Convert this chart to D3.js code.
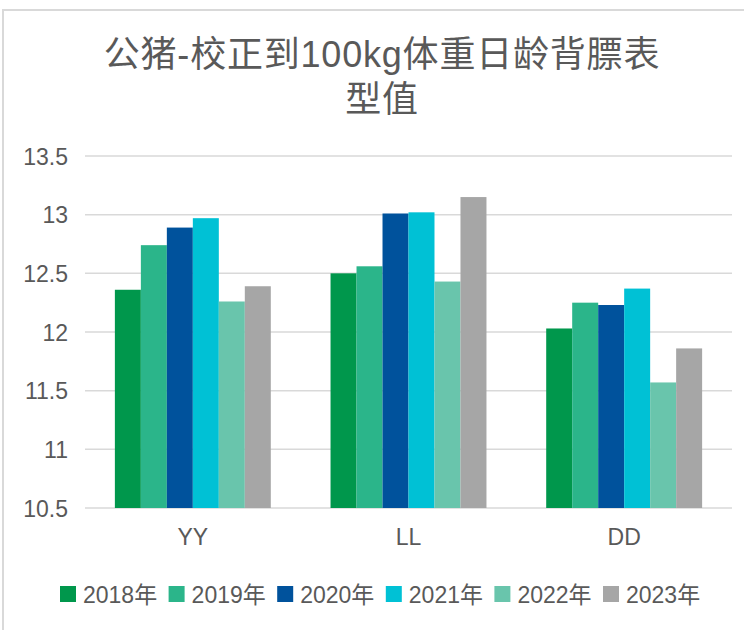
<!DOCTYPE html>
<html>
<head>
<meta charset="utf-8">
<script src="https://cdn.jsdelivr.net/npm/d3@7"></script>
<style>
  html, body { margin: 0; padding: 0; background: #fff; }
  svg { display: block; }
  text { font-family: "Liberation Sans", Arial, "Noto Sans CJK SC", sans-serif; fill: #595959; }
</style>
</head>
<body>
<svg id="chart" width="744" height="630"></svg>
<script>
const titleLines = ["公猪-校正到100kg体重日龄背膘表", "型值"];
const categories = ["YY", "LL", "DD"];
const seriesNames = ["2018年", "2019年", "2020年", "2021年", "2022年", "2023年"];
const seriesColors = ["#00974C", "#2BB58A", "#00529C", "#00C1D5", "#69C5AC", "#A6A6A6"];
const s2018 = [12.36, 12.50, 12.03];
const s2019 = [12.74, 12.56, 12.25];
const s2020 = [12.89, 13.01, 12.23];
const s2021 = [12.97, 13.02, 12.37];
const s2022 = [12.26, 12.43, 11.57];
const s2023 = [12.39, 13.15, 11.86];
const yTicks = [10.5, 11, 11.5, 12, 12.5, 13, 13.5];
const yTickLabels = ["10.5", "11", "11.5", "12", "12.5", "13", "13.5"];

const seriesValues = [s2018, s2019, s2020, s2021, s2022, s2023];

const svg = d3.select("#chart");

// chart area border (partially visible)
svg.append("rect")
  .attr("x", 3).attr("y", 10)
  .attr("width", 760).attr("height", 640)
  .attr("fill", "none")
  .attr("stroke", "#D9D9D9")
  .attr("stroke-width", 2);

// title
svg.append("text")
  .attr("x", 382).attr("text-anchor", "middle")
  .style("font-size", "36px")
  .style("letter-spacing", "0.8px")
  .selectAll("tspan").data(titleLines).join("tspan")
  .attr("x", 382)
  .attr("y", (d, i) => 67 + i * 45)
  .text(d => d);

const plot = { left: 85, right: 732, top: 156, bottom: 508 };

const x0 = d3.scaleBand()
  .domain(categories)
  .range([plot.left, plot.right])
  .paddingInner(0.277)
  .paddingOuter(0.1385);

const x1 = d3.scaleBand()
  .domain(seriesNames)
  .range([0, x0.bandwidth()])
  .padding(0);

const y = d3.scaleLinear()
  .domain([10.5, 13.5])
  .range([plot.bottom, plot.top]);

// gridlines
svg.append("g")
  .selectAll("line").data(yTicks).join("line")
  .attr("x1", plot.left).attr("x2", plot.right)
  .attr("y1", d => y(d)).attr("y2", d => y(d))
  .attr("stroke", "#D9D9D9")
  .attr("stroke-width", 1.5);

// y axis labels
const yAxis = d3.axisLeft(y)
  .tickValues(yTicks)
  .tickFormat((d, i) => yTickLabels[i])
  .tickSize(0)
  .tickPadding(0);
const ya = svg.append("g")
  .attr("transform", `translate(68,0)`)
  .call(yAxis);
ya.select(".domain").remove();
ya.selectAll("text")
  .style("font-size", "23px")
  .style("font-family", "\"Liberation Sans\", Arial, sans-serif")
  .attr("fill", "#595959")
  .attr("dy", "0.35em");

// bars
const groups = svg.append("g")
  .selectAll("g").data(categories).join("g")
  .attr("transform", d => `translate(${x0(d)},0)`);

groups.selectAll("rect")
  .data((c, ci) => seriesNames.map((s, si) => ({ s, si, v: seriesValues[si][ci] })))
  .join("rect")
  .attr("x", d => x1(d.s))
  .attr("width", x1.bandwidth())
  .attr("y", d => y(d.v))
  .attr("height", d => y(10.5) - y(d.v))
  .attr("fill", d => seriesColors[d.si]);

// x axis labels
const xAxis = d3.axisBottom(x0).tickSize(0).tickPadding(0);
const xa = svg.append("g")
  .attr("transform", `translate(0,${plot.bottom})`)
  .call(xAxis);
xa.select(".domain").remove();
xa.selectAll("text")
  .style("font-size", "23px")
  .style("font-family", "\"Liberation Sans\", Arial, sans-serif")
  .attr("fill", "#595959")
  .attr("y", 37)
  .attr("dy", 0);

// legend
const legendX = d3.scalePoint()
  .domain(seriesNames)
  .range([60, 603]);
const lg = svg.append("g")
  .selectAll("g").data(seriesNames).join("g")
  .attr("transform", d => `translate(${legendX(d)},0)`);
lg.append("rect")
  .attr("x", 0).attr("y", 586)
  .attr("width", 16).attr("height", 16)
  .attr("fill", (d, i) => seriesColors[i]);
lg.append("text")
  .attr("x", 23).attr("y", 603)
  .style("font-size", "23px")
  .text(d => d);
</script>
</body>
</html>
